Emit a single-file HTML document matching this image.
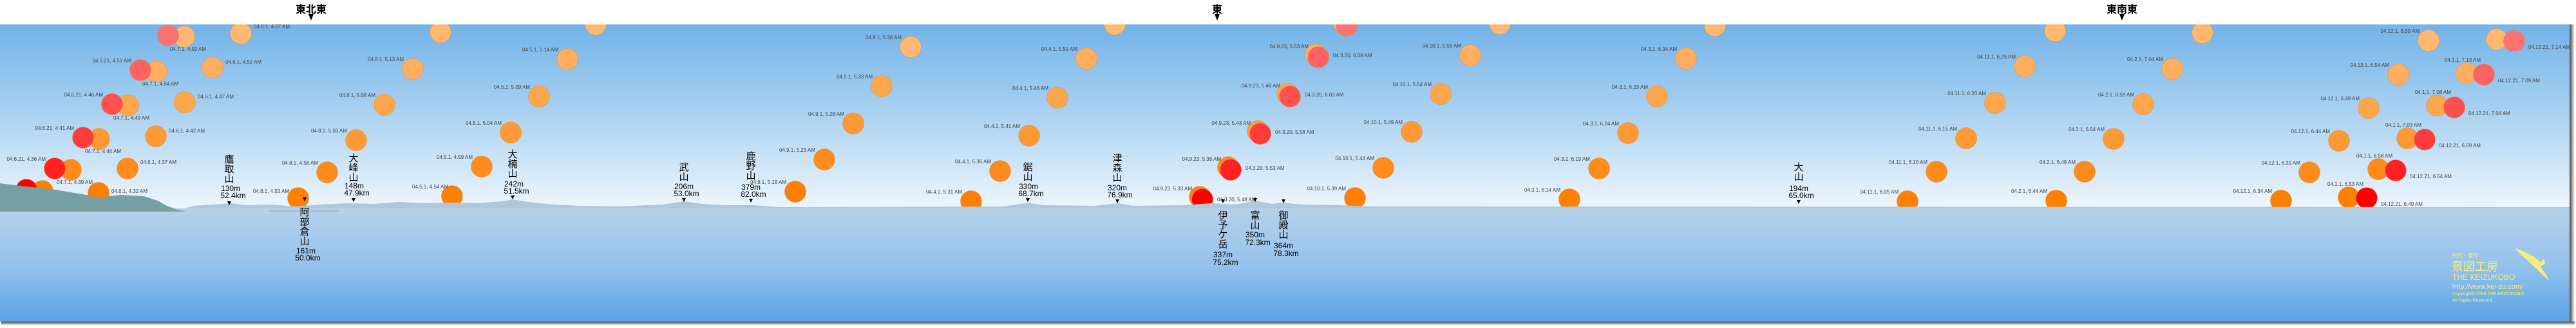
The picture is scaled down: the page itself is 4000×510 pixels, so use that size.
<!DOCTYPE html>
<html><head><meta charset="utf-8"><style>
html,body{margin:0;padding:0;background:#fff;}
svg{display:block;}
.t{font-family:"Liberation Sans",sans-serif;font-size:8px;fill:#444;}
.m{font-family:"Liberation Sans","Noto Sans CJK JP",sans-serif;font-size:15px;fill:#000;text-anchor:middle;}
.n{font-family:"Liberation Sans",sans-serif;font-size:12px;fill:#000;text-anchor:middle;}
.d{font-family:"Liberation Sans","Noto Sans CJK JP",sans-serif;font-size:16px;font-weight:bold;fill:#000;text-anchor:middle;}
.o0{fill:#ff8000}.o1{fill:#fd8c1c}.o2{fill:#fd9a36}.o3{fill:#fea64c}.o4{fill:#ffae60}.o5{fill:#ffb872}
.r0{fill:#ff0000}.r1{fill:#ff2222}.r2{fill:#ff3c3c}.r3{fill:#ff5050}.r4{fill:#ff6262}.r5{fill:#ff7272}
circle{stroke:#e08a40;stroke-width:0.8;stroke-opacity:.6}
.y{font-family:"Liberation Sans","Noto Sans CJK JP",sans-serif;fill:#f2f07a;}
</style></head><body>
<svg width="4000" height="510" viewBox="0 0 4000 510" xmlns="http://www.w3.org/2000/svg">
<defs>
<linearGradient id="sky" x1="0" y1="0" x2="0" y2="1">
<stop offset="0" stop-color="#72b3e8"/><stop offset="0.45" stop-color="#a6d0f0"/><stop offset="1" stop-color="#f0f7fd"/></linearGradient>
<linearGradient id="sea" x1="0" y1="0" x2="0" y2="1">
<stop offset="0" stop-color="#b6d1ea"/><stop offset="0.5" stop-color="#96c2ec"/><stop offset="1" stop-color="#5aa2e6"/></linearGradient>
<linearGradient id="sh" x1="0" y1="0" x2="0" y2="1"><stop offset="0" stop-color="#444"/><stop offset="1" stop-color="#fff"/></linearGradient>
<linearGradient id="shr" x1="0" y1="0" x2="1" y2="0"><stop offset="0" stop-color="#444"/><stop offset="1" stop-color="#fff"/></linearGradient>
</defs>
<rect x="0" y="0" width="4000" height="510" fill="#fff"/>
<rect x="3990" y="38" width="8" height="466" fill="url(#shr)"/>
<rect x="2" y="500" width="3996" height="6" fill="url(#sh)"/>
<rect x="0" y="38" width="3990" height="290" fill="url(#sky)"/>

<!-- suns -->
<g>
<circle class="o0" cx="66" cy="297" r="16.5"/><circle class="o1" cx="110" cy="264" r="16.5"/><circle class="o2" cx="154" cy="216" r="16.5"/><circle class="o3" cx="199" cy="164" r="16.5"/><circle class="o4" cx="243" cy="111" r="16.5"/><circle class="o5" cx="286" cy="57" r="16.5"/>
<circle class="r0" cx="41" cy="295" r="16.5"/><circle class="r1" cx="85" cy="262" r="16.5"/><circle class="r2" cx="129" cy="214" r="16.5"/><circle class="r3" cx="174" cy="162" r="16.5"/><circle class="r4" cx="218" cy="109" r="16.5"/><circle class="r5" cx="261" cy="55" r="16.5"/>
<circle class="o0" cx="153" cy="300" r="16.5"/><circle class="o1" cx="198" cy="262" r="16.5"/><circle class="o2" cx="242" cy="212" r="16.5"/><circle class="o3" cx="287" cy="159" r="16.5"/><circle class="o4" cx="330" cy="105" r="16.5"/><circle class="o5" cx="374" cy="52" r="16.5"/>
<circle class="o0" cx="463" cy="308" r="16.5"/><circle class="o1" cx="508" cy="268" r="16.5"/><circle class="o2" cx="553" cy="218" r="16.5"/><circle class="o3" cx="597" cy="163" r="16.5"/><circle class="o4" cx="641" cy="107" r="16.5"/><circle class="o5" cx="684" cy="50" r="16.5"/>
<circle class="o0" cx="702" cy="305" r="16.5"/><circle class="o1" cx="748" cy="259" r="16.5"/><circle class="o2" cx="793" cy="206" r="16.5"/><circle class="o3" cx="837" cy="150" r="16.5"/><circle class="o4" cx="881" cy="92" r="16.5"/><circle class="o5" cx="925" cy="38" r="16.5"/>
<circle class="o0" cx="1235" cy="298" r="16.5"/><circle class="o1" cx="1280" cy="248" r="16.5"/><circle class="o2" cx="1325" cy="192" r="16.5"/><circle class="o3" cx="1369" cy="134" r="16.5"/><circle class="o5" cx="1414" cy="73" r="16.5"/><circle class="o5" cx="1458" cy="15" r="16.5"/>
<circle class="o0" cx="1508" cy="313" r="16.5"/><circle class="o1" cx="1553" cy="266" r="16.5"/><circle class="o2" cx="1598" cy="211" r="16.5"/><circle class="o3" cx="1642" cy="152" r="16.5"/><circle class="o4" cx="1687" cy="91" r="16.5"/><circle class="o5" cx="1731" cy="38" r="16.5"/>
<circle class="o0" cx="1863" cy="306" r="16.5"/><circle class="o1" cx="1907" cy="260" r="16.5"/><circle class="o2" cx="1953" cy="204" r="16.5"/><circle class="o3" cx="1999" cy="146" r="16.5"/><circle class="o4" cx="2043" cy="85" r="16.5"/><circle class="o5" cx="2087" cy="36" r="16.5"/>
<circle class="r0" cx="1867" cy="310" r="16.5"/><circle class="r1" cx="1911" cy="264" r="16.5"/><circle class="r2" cx="1957" cy="208" r="16.5"/><circle class="r3" cx="2003" cy="150" r="16.5"/><circle class="r4" cx="2047" cy="89" r="16.5"/><circle class="r5" cx="2091" cy="40" r="16.5"/>
<circle class="o0" cx="2104" cy="308" r="16.5"/><circle class="o1" cx="2148" cy="261" r="16.5"/><circle class="o2" cx="2192" cy="205" r="16.5"/><circle class="o3" cx="2237" cy="146" r="16.5"/><circle class="o4" cx="2283" cy="86" r="16.5"/><circle class="o5" cx="2329" cy="37" r="16.5"/>
<circle class="o0" cx="2437" cy="310" r="16.5"/><circle class="o1" cx="2483" cy="262" r="16.5"/><circle class="o2" cx="2528" cy="207" r="16.5"/><circle class="o3" cx="2573" cy="150" r="16.5"/><circle class="o4" cx="2618" cy="91" r="16.5"/><circle class="o5" cx="2663" cy="40" r="16.5"/>
<circle class="o0" cx="2962" cy="313" r="16.5"/><circle class="o1" cx="3007" cy="267" r="16.5"/><circle class="o2" cx="3053" cy="215" r="16.5"/><circle class="o3" cx="3098" cy="160" r="16.5"/><circle class="o4" cx="3144" cy="103" r="16.5"/><circle class="o5" cx="3191" cy="48" r="16.5"/>
<circle class="o0" cx="3193" cy="312" r="16.5"/><circle class="o1" cx="3237" cy="267" r="16.5"/><circle class="o2" cx="3282" cy="216" r="16.5"/><circle class="o3" cx="3328" cy="162" r="16.5"/><circle class="o4" cx="3373" cy="107" r="16.5"/><circle class="o5" cx="3420" cy="51" r="16.5"/>
<circle class="o0" cx="3542" cy="312" r="16.5"/><circle class="o1" cx="3586" cy="268" r="16.5"/><circle class="o2" cx="3632" cy="219" r="16.5"/><circle class="o3" cx="3678" cy="168" r="16.5"/><circle class="o4" cx="3724" cy="116" r="16.5"/><circle class="o5" cx="3771" cy="63" r="16.5"/>
<circle class="o0" cx="3647" cy="307" r="16.5"/><circle class="o1" cx="3693" cy="263" r="16.5"/><circle class="o2" cx="3738" cy="215" r="16.5"/><circle class="o3" cx="3784" cy="164" r="16.5"/><circle class="o4" cx="3830" cy="114" r="16.5"/><circle class="o5" cx="3877" cy="61" r="16.5"/>
<circle class="r0" cx="3675" cy="308" r="16.5"/><circle class="r1" cx="3720" cy="265" r="16.5"/><circle class="r2" cx="3765" cy="217" r="16.5"/><circle class="r3" cx="3811" cy="167" r="16.5"/><circle class="r4" cx="3857" cy="116" r="16.5"/><circle class="r5" cx="3904" cy="64" r="16.5"/>
</g>

<!-- time labels -->
<g class="t">
<g text-anchor="end">
<text x="71" y="250">04.6.21, 4.36 AM</text><text x="115" y="202">04.6.21, 4.41 AM</text><text x="160" y="150">04.6.21, 4.46 AM</text><text x="204" y="97">04.6.21, 4.51 AM</text>
<text x="449" y="300">04.8.1, 4.53 AM</text><text x="494" y="256">04.8.1, 4.58 AM</text><text x="539" y="206">04.8.1, 5.03 AM</text><text x="583" y="151">04.8.1, 5.08 AM</text><text x="627" y="95">04.8.1, 5.13 AM</text>
<text x="734" y="247">04.5.1, 4.59 AM</text><text x="779" y="194">04.5.1, 5.04 AM</text><text x="823" y="138">04.5.1, 5.09 AM</text><text x="867" y="80">04.5.1, 5.14 AM</text>
<text x="1221" y="286">04.9.1, 5.18 AM</text><text x="1266" y="236">04.9.1, 5.23 AM</text><text x="1311" y="180">04.9.1, 5.28 AM</text><text x="1355" y="122">04.9.1, 5.33 AM</text><text x="1400" y="61">04.9.1, 5.38 AM</text>
<text x="1494" y="301">04.4.1, 5.31 AM</text><text x="1539" y="254">04.4.1, 5.36 AM</text><text x="1584" y="199">04.4.1, 5.41 AM</text><text x="1628" y="140">04.4.1, 5.46 AM</text><text x="1673" y="79">04.4.1, 5.51 AM</text>
<text x="1851" y="296">04.9.23, 5.33 AM</text><text x="1896" y="250">04.9.23, 5.38 AM</text><text x="1942" y="194">04.9.23, 5.43 AM</text><text x="1988" y="136">04.9.23, 5.48 AM</text><text x="2032" y="75">04.9.23, 5.53 AM</text>
<text x="2090" y="296">04.10.1, 5.39 AM</text><text x="2134" y="249">04.10.1, 5.44 AM</text><text x="2178" y="193">04.10.1, 5.49 AM</text><text x="2223" y="134">04.10.1, 5.54 AM</text><text x="2269" y="74">04.10.1, 5.59 AM</text>
<text x="2423" y="298">04.3.1, 6.14 AM</text><text x="2469" y="250">04.3.1, 6.19 AM</text><text x="2514" y="195">04.3.1, 6.24 AM</text><text x="2559" y="138">04.3.1, 6.29 AM</text><text x="2604" y="79">04.3.1, 6.34 AM</text>
<text x="2948" y="301">04.11.1, 6.05 AM</text><text x="2993" y="255">04.11.1, 6.10 AM</text><text x="3039" y="203">04.11.1, 6.15 AM</text><text x="3084" y="148">04.11.1, 6.20 AM</text><text x="3130" y="91">04.11.1, 6.25 AM</text>
<text x="3179" y="300">04.2.1, 6.44 AM</text><text x="3223" y="255">04.2.1, 6.49 AM</text><text x="3268" y="204">04.2.1, 6.54 AM</text><text x="3314" y="150">04.2.1, 6.59 AM</text><text x="3359" y="95">04.2.1, 7.04 AM</text>
<text x="3528" y="300">04.12.1, 6.34 AM</text><text x="3572" y="256">04.12.1, 6.39 AM</text><text x="3618" y="207">04.12.1, 6.44 AM</text><text x="3664" y="156">04.12.1, 6.49 AM</text><text x="3710" y="104">04.12.1, 6.54 AM</text><text x="3757" y="51">04.12.1, 6.59 AM</text>
<text x="3670" y="289">04.1.1, 6.53 AM</text><text x="3715" y="245">04.1.1, 6.58 AM</text><text x="3760" y="197">04.1.1, 7.03 AM</text><text x="3806" y="146">04.1.1, 7.08 AM</text><text x="3852" y="96">04.1.1, 7.13 AM</text>
</g>
<text x="88" y="286">04.7.1, 4.39 AM</text><text x="132" y="238">04.7.1, 4.44 AM</text><text x="176" y="186">04.7.1, 4.49 AM</text><text x="221" y="133">04.7.1, 4.54 AM</text><text x="264" y="79">04.7.1, 4.59 AM</text>
<text x="173" y="300">04.6.1, 4.32 AM</text><text x="218" y="255">04.6.1, 4.37 AM</text><text x="262" y="206">04.6.1, 4.42 AM</text><text x="307" y="153">04.6.1, 4.47 AM</text><text x="350" y="99">04.6.1, 4.52 AM</text><text x="394" y="44">04.6.1, 4.57 AM</text>
<text x="640" y="293">04.5.1, 4.54 AM</text>
<text x="1890" y="313">04.3.20, 5.48 AM</text><text x="1934" y="264">04.3.20, 5.53 AM</text><text x="1980" y="208">04.3.20, 5.58 AM</text><text x="2026" y="150">04.3.20, 6.03 AM</text><text x="2070" y="89">04.3.20, 6.08 AM</text>
<text x="3697" y="320">04.12.21, 6.49 AM</text><text x="3742" y="277">04.12.21, 6.54 AM</text><text x="3787" y="229">04.12.21, 6.59 AM</text><text x="3833" y="179">04.12.21, 7.04 AM</text><text x="3879" y="128">04.12.21, 7.09 AM</text><text x="3926" y="76">04.12.21, 7.14 AM</text>
</g>

<!-- distant ridges -->
<path d="M280,326 L300,320 330,318 360,316 380,319 420,318 460,321 500,318 540,316 580,317 620,314 660,316 700,315 740,316 780,313 796,310 820,314 860,318 900,320 960,321 1030,318 1062,313 1090,317 1130,319 1170,319 1210,322 1560,321 1596,315 1620,319 1700,320 1735,316 1760,320 1840,319 1880,316 1920,318 1949,312 1975,317 1993,315 2020,318 2080,319 2120,321 2200,321 3990,322 L3990,330 L280,330 Z" fill="#b2c7da"/>
<!-- sea -->
<rect x="0" y="324" width="3990" height="176" fill="url(#sea)"/>
<!-- near land -->
<path d="M0,285 L40,290 80,294 134,303 152,308 170,305 188,303 223,305 245,312 259,320 275,326 290,329 L0,329 Z" fill="#76a0a4"/>
<line x1="418" y1="328" x2="526" y2="328" stroke="#8aa0b4" stroke-width="1"/>

<!-- header -->
<rect x="0" y="0" width="3990" height="38" fill="#fff"/>
<text class="d" x="483" y="20">東北東</text><path d="M479,22 L487,22 483,32 Z" fill="#000"/>
<text class="d" x="1890" y="20">東</text><path d="M1886,22 L1894,22 1890,32 Z" fill="#000"/>
<text class="d" x="3295" y="20">東南東</text><path d="M3291,22 L3299,22 3295,32 Z" fill="#000"/>

<!-- mountains -->
<g>
<text class="m" x="356" y="253">鷹</text><text class="m" x="356" y="268">取</text><text class="m" x="356" y="283">山</text><text class="n" x="358" y="297">130m</text><text class="n" x="362" y="308">52.4km</text><path d="M353,313 L359,313 356,319 Z"/>
<path d="M470,307 L476,307 473,313 Z"/><text class="m" x="473" y="335">阿</text><text class="m" x="473" y="350">部</text><text class="m" x="473" y="365">倉</text><text class="m" x="473" y="380">山</text><text class="n" x="475" y="394">161m</text><text class="n" x="478" y="405">50.0km</text>
<text class="m" x="549" y="251">大</text><text class="m" x="549" y="266">峰</text><text class="m" x="549" y="281">山</text><text class="n" x="550" y="293">148m</text><text class="n" x="554" y="304">47.9km</text><path d="M546,308 L552,308 549,314 Z"/>
<text class="m" x="796" y="245">大</text><text class="m" x="796" y="260">楠</text><text class="m" x="796" y="275">山</text><text class="n" x="798" y="290">242m</text><text class="n" x="802" y="301">51.5km</text><path d="M793,304 L799,304 796,310 Z"/>
<text class="m" x="1062" y="265">武</text><text class="m" x="1062" y="280">山</text><text class="n" x="1062" y="294">206m</text><text class="n" x="1066" y="305">53.0km</text><path d="M1059,308 L1065,308 1062,314 Z"/>
<text class="m" x="1166" y="248">鹿</text><text class="m" x="1166" y="263">野</text><text class="m" x="1166" y="278">山</text><text class="n" x="1166" y="295">379m</text><text class="n" x="1170" y="306">82.0km</text><path d="M1163,309 L1169,309 1166,315 Z"/>
<text class="m" x="1596" y="265">鋸</text><text class="m" x="1596" y="280">山</text><text class="n" x="1597" y="294">330m</text><text class="n" x="1601" y="305">68.7km</text><path d="M1593,308 L1599,308 1596,314 Z"/>
<text class="m" x="1735" y="251">津</text><text class="m" x="1735" y="266">森</text><text class="m" x="1735" y="281">山</text><text class="n" x="1735" y="296">320m</text><text class="n" x="1739" y="307">76.9km</text><path d="M1732,310 L1738,310 1735,316 Z"/>
<path d="M1896,310 L1902,310 1899,316 Z"/><text class="m" x="1899" y="340">伊</text><text class="m" x="1899" y="355">予</text><text class="m" x="1899" y="370">ケ</text><text class="m" x="1899" y="385">岳</text><text class="n" x="1899" y="400">337m</text><text class="n" x="1903" y="412">75.2km</text>
<path d="M1946,308 L1952,308 1949,314 Z"/><text class="m" x="1949" y="340">富</text><text class="m" x="1949" y="355">山</text><text class="n" x="1949" y="369">350m</text><text class="n" x="1953" y="381">72.3km</text>
<path d="M1990,310 L1996,310 1993,316 Z"/><text class="m" x="1993" y="340">御</text><text class="m" x="1993" y="355">殿</text><text class="m" x="1993" y="370">山</text><text class="n" x="1993" y="386">364m</text><text class="n" x="1997" y="398">78.3km</text>
<text class="m" x="2793" y="265">大</text><text class="m" x="2793" y="280">山</text><text class="n" x="2793" y="297">194m</text><text class="n" x="2797" y="308">65.0km</text><path d="M2790,311 L2796,311 2793,317 Z"/>
</g>

<!-- logo -->
<g>
<text class="y" x="3808" y="400" font-size="8">制作・著作</text>
<text class="y" x="3807" y="421" font-size="18">景図工房</text>
<text class="y" x="3808" y="435" font-size="12">THE KEIZUKOBO</text>
<text class="y" x="3808" y="449" font-size="11">http://www.kei-zu.com/</text>
<text class="y" x="3808" y="459" font-size="7">Copyright© 2003  THE KEIZUKOBO</text>
<text class="y" x="3808" y="469" font-size="7">All Rights Reserved.</text>
<path d="M3905,386 C3920,390 3935,398 3945,408 L3950,402 3952,410 3945,414 C3950,422 3956,430 3958,436 C3950,430 3940,418 3930,410 C3922,402 3912,394 3905,386 Z" fill="#f2f07a"/>
</g>
</svg>
</body></html>
